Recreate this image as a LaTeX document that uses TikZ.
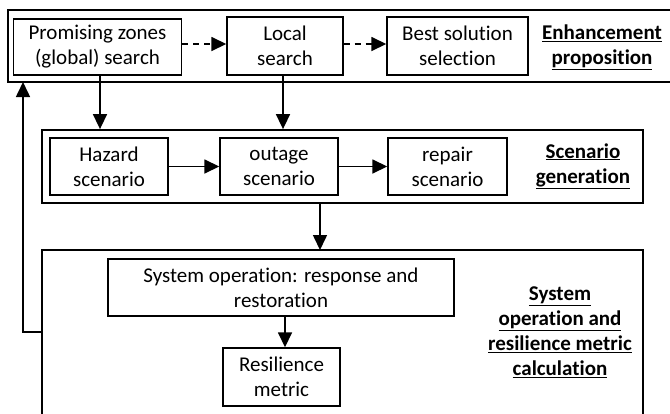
\documentclass[tikz,border=0pt]{standalone}
\usepackage{fontspec}
\setmainfont[RawFeature={-liga,-clig,-calt,-dlig}]{Carlito}
\usetikzlibrary{arrows.meta}

\tikzset{
  box/.style={draw=black, line width=1.4pt, align=center, inner sep=0pt,
    font=\fontsize{21}{25}\selectfont},
  title/.style={align=center, font=\fontsize{21}{25}\selectfont\bfseries},
  flow/.style={line width=1.6pt, -{Triangle[length=15pt,width=14pt]}},
  dflow/.style={flow, dash pattern=on 6pt off 5pt}
}

\begin{document}
\begin{tikzpicture}[x=1pt,y=-1pt]
\useasboundingbox (0,0) rectangle (670,413);

% enhancement proposition
\draw[line width=1.8pt] (672,10) -| (8,82) -- (672,82);
\node[box, minimum width=168pt, minimum height=56pt] (prom) at (97.5,47) {Promising zones\\(global) search};
\node[box, minimum width=116pt, minimum height=58pt] (local) at (285,46) {Local\\search};
\node[box, minimum width=141pt, minimum height=58pt] (best) at (457.5,46) {Best solution\\selection};
\node[title] (enh) at (602,47) {\underline{Enhancement}\\\underline{proposition}};
\draw[dflow] (prom.east |- 0,44) -- (local.west |- 0,44);
\draw[dflow] (local.east |- 0,44) -- (best.west |- 0,44);

% scenario generation
\node[box, line width=1.8pt, minimum width=601pt, minimum height=73pt] (scen) at (342.5,166.5) {};
\node[box, minimum width=118pt, minimum height=57pt] (haz) at (109,166.5) {Hazard\\scenario};
\node[box, minimum width=118pt, minimum height=57pt] (out) at (279,166.5) {outage\\scenario};
\node[box, minimum width=119pt, minimum height=57pt] (rep) at (447.5,166.5) {repair\\scenario};
\node[title] (gen) at (583,166) {\underline{Scenario}\\\underline{generation}};
\draw[flow] (haz) -- (out);
\draw[flow] (out) -- (rep);
\draw[flow] (prom.south -| 100,0) -- (scen.north -| 100,0);
\draw[flow] (local.south -| 283,0) -- (scen.north -| 283,0);

% system operation
\draw[line width=1.8pt] (42,415) |- (643,250) -- (643,415);
\coordinate (sysin) at (320,250);
\node[box, minimum width=346pt, minimum height=57pt] (sys) at (281,287.5) {System operation: response and\\restoration};
\node[box, minimum width=117pt, minimum height=58pt] (res) at (281.5,377) {Resilience\\metric};
\node[title] (calc) at (560,332) {\underline{System}\\\underline{operation and}\\\underline{resilience metric}\\\underline{calculation}};
\draw[flow] (scen.south -| sysin) -- (sysin);
\draw[flow] (sys.south -| 285,0) -- (res.north -| 285,0);

% feedback
\coordinate (fbout) at (42,332);
\coordinate (fbin) at (23,82);
\draw[flow] (fbout) -- (fbout -| fbin) -- (fbin);
\end{tikzpicture}
\end{document}
